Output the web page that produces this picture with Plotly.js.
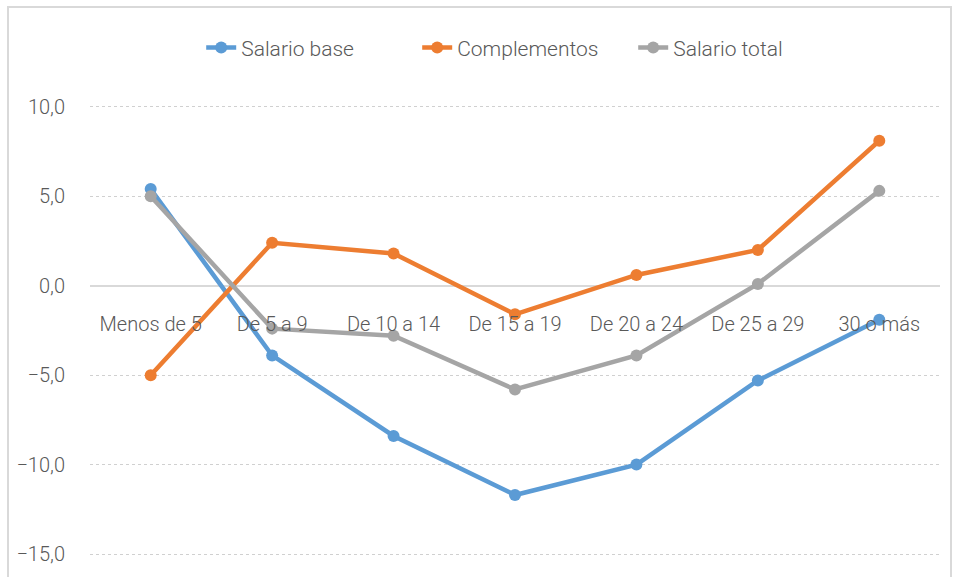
<!DOCTYPE html>
<html>
<head>
<meta charset="utf-8">
<script src="https://cdn.plot.ly/plotly-3.0.1.min.js"></script>
<style>
  html, body { margin: 0; padding: 0; overflow: hidden; background: #fff; }
  #frame { position: absolute; left: 7px; top: 6px; width: 941px; height: 600px;
           border: 2px solid #d9d9d9; overflow: hidden; }
</style>
</head>
<body>
<div id="frame"><div id="chart"></div></div>
<script>
const categories = ['Menos de 5', 'De 5 a 9', 'De 10 a 14', 'De 15 a 19', 'De 20 a 24', 'De 25 a 29', '30 o más'];
const salarioBase = [5.4, -3.9, -8.4, -11.7, -10.0, -5.3, -1.9];
const complementos = [-5.0, 2.4, 1.8, -1.6, 0.6, 2.0, 8.1];
const salarioTotal = [5.0, -2.4, -2.8, -5.8, -3.9, 0.1, 5.3];

const yRange = [-15.5, 12];
const FONT = 'Roboto, "Open Sans", sans-serif';

function drawChart() {
    const chartDiv = document.getElementById('chart');

    const series = [
        { name: 'Salario base', y: salarioBase, color: '#5b9bd5' },
        { name: 'Complementos', y: complementos, color: '#ed7d31' },
        { name: 'Salario total', y: salarioTotal, color: '#a5a5a5' }
    ];

    const traces = series.map(s => ({
        x: categories,
        y: s.y,
        name: s.name,
        type: 'scatter',
        mode: 'lines+markers',
        line: { color: s.color, width: 4.5 },
        marker: { color: s.color, size: 12 }
    }));

    Plotly.newPlot(chartDiv, traces, {
        width: 941,
        height: 571,
        margin: { l: 81, r: 10, t: 63, b: 16 },
        paper_bgcolor: '#fff',
        plot_bgcolor: '#fff',
        separators: ',.',
        font: { family: FONT, size: 20, color: '#595959', weight: 300 },
        showlegend: true,
        legend: {
            orientation: 'h',
            x: 0.512, xanchor: 'center',
            y: 1.047, yanchor: 'middle',
            font: { family: FONT, size: 21, color: '#595959', weight: 300 },
            entrywidth: 171
        },
        xaxis: {
            type: 'category',
            range: [-0.5, categories.length - 0.5],
            anchor: 'free',
            position: (0 - yRange[0]) / (yRange[1] - yRange[0]),
            showline: false,
            showgrid: false,
            zeroline: false,
            ticks: '',
            ticklabelstandoff: 24,
            tickfont: { family: FONT, size: 20, color: '#595959', weight: 300 }
        },
        yaxis: {
            range: yRange,
            tick0: 0,
            dtick: 5,
            tickformat: '.1f',
            showgrid: true,
            gridcolor: '#d0d0d0',
            griddash: 'dot',
            gridwidth: 1,
            zeroline: true,
            zerolinecolor: '#d9d9d9',
            zerolinewidth: 2,
            showline: false,
            ticks: '',
            ticklabelstandoff: 24,
            tickfont: { family: FONT, size: 20, color: '#595959', weight: 300 }
        }
    }, { displayModeBar: false, staticPlot: true });
}

window.addEventListener('load', drawChart);
</script>
</body>
</html>
